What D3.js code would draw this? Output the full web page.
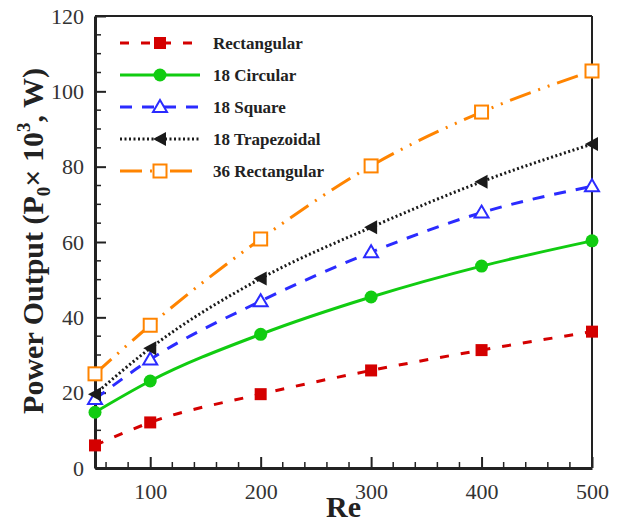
<!doctype html>
<html>
  <head>
    <meta charset="utf-8">
    <title>Power Output vs Re</title>
    <script src="https://cdn.jsdelivr.net/npm/d3@7"></script>
    <style>
      body { margin: 0; background: #fff; }
      svg { display: block; font-family: "Liberation Serif", "Times New Roman", serif; }
    </style>
  </head>
  <body>
    <svg id="chart" width="625" height="524"></svg>
    <script>
      // data
      var re = [50, 100, 200, 300, 400, 500];
      var rectangular = [6.0, 12.1, 19.6, 25.9, 31.3, 36.2];
      var circular18 = [14.8, 23.1, 35.5, 45.4, 53.6, 60.3];
      var square18 = [18.3, 28.8, 44.3, 57.3, 67.8, 74.8];
      var trapezoidal18 = [19.6, 31.8, 50.3, 63.9, 76.0, 86.0];
      var rect36 = [25.0, 37.9, 60.8, 80.2, 94.5, 105.4];

      var xTicks = [100, 200, 300, 400, 500];
      var yTicks = [0, 20, 40, 60, 80, 100, 120];

      var series = [
        { name: 'Rectangular', values: rectangular, color: '#d40000', dash: '9,12', marker: 'fsquare' },
        { name: '18 Circular', values: circular18, color: '#11cc11', dash: null, marker: 'circle' },
        { name: '18 Square', values: square18, color: '#2b2bff', dash: '12,10', marker: 'otri' },
        { name: '18 Trapezoidal', values: trapezoidal18, color: '#1a1a1a', dash: '2,2.5', marker: 'ltri' },
        { name: '36 Rectangular', values: rect36, color: '#ff8400', dash: '22,8,2,8,2,8', marker: 'osquare' }
      ];

      var svg = d3.select('#chart');
      var plotL = 95, plotR = 592, plotT = 16, plotB = 468;

      var x = d3.scaleLinear().domain([50, 500]).range([plotL, plotR]);
      var y = d3.scaleLinear().domain([0, 120]).range([plotB, plotT]);

      var axisColor = '#222';

      // frame
      svg.append('line').attr('x1', plotL).attr('x2', plotR).attr('y1', plotT).attr('y2', plotT)
        .attr('stroke', axisColor).attr('stroke-width', 2);
      svg.append('line').attr('x1', plotR).attr('x2', plotR).attr('y1', plotT).attr('y2', plotB)
        .attr('stroke', axisColor).attr('stroke-width', 2);

      // minor ticks
      var xMinor = d3.range(60, 500, 20).filter(function (d) { return d % 100 !== 0; });
      var yMinor = d3.range(5, 120, 5).filter(function (d) { return d % 20 !== 0; });

      var xAxis = svg.append('g').attr('transform', 'translate(0,' + plotB + ')')
        .call(d3.axisBottom(x).tickValues(xTicks).tickSize(-11).tickPadding(15).tickSizeOuter(0));
      xAxis.append('g').selectAll('line').data(xMinor).enter().append('line')
        .attr('x1', x).attr('x2', x).attr('y1', 0).attr('y2', -6)
        .attr('stroke', axisColor).attr('stroke-width', 1.5);

      var yAxis = svg.append('g').attr('transform', 'translate(' + plotL + ',0)')
        .call(d3.axisLeft(y).tickValues(yTicks).tickSize(-11).tickPadding(11).tickSizeOuter(0));
      yAxis.append('g').selectAll('line').data(yMinor).enter().append('line')
        .attr('y1', y).attr('y2', y).attr('x1', 0).attr('x2', 6)
        .attr('stroke', axisColor).attr('stroke-width', 1.5);

      [xAxis, yAxis].forEach(function (g) {
        g.select('.domain').attr('stroke', axisColor).attr('stroke-width', 3);
        g.selectAll('.tick line').attr('stroke', axisColor).attr('stroke-width', 2);
        g.selectAll('.tick text').attr('font-size', 22).attr('fill', '#333')
          .attr('font-family', '"Liberation Serif", serif');
      });
      xAxis.selectAll('.tick text').attr('dy', '0.71em');

      // axis titles
      svg.append('text').attr('x', (plotL + plotR) / 2).attr('y', 517)
        .attr('text-anchor', 'middle').attr('font-size', 30).attr('font-weight', 'bold')
        .attr('fill', '#222').text('Re');

      var yt = svg.append('text')
        .attr('transform', 'translate(42.5,241) rotate(-90)')
        .attr('text-anchor', 'middle').attr('font-size', 30).attr('font-weight', 'bold')
        .attr('fill', '#222');
      yt.append('tspan').text('Power Output (P');
      yt.append('tspan').attr('font-size', 19).attr('dy', 7).text('0');
      yt.append('tspan').attr('dy', -7).text('\u00d7 10');
      yt.append('tspan').attr('font-size', 19).attr('dy', -13).text('3');
      yt.append('tspan').attr('dy', 13).text(', W)');

      var line = d3.line()
        .x(function (d) { return x(d.re); })
        .y(function (d) { return y(d.v); })
        .curve(d3.curveMonotoneX);

      function drawMarker(g, type, color, cx, cy) {
        if (type === 'fsquare') {
          g.append('rect').attr('x', cx - 6).attr('y', cy - 6).attr('width', 12).attr('height', 12)
            .attr('fill', color);
        } else if (type === 'circle') {
          g.append('circle').attr('cx', cx).attr('cy', cy).attr('r', 6.5).attr('fill', color);
        } else if (type === 'otri') {
          g.append('path')
            .attr('d', 'M' + cx + ',' + (cy - 7) + 'L' + (cx + 7) + ',' + (cy + 5) + 'L' + (cx - 7) + ',' + (cy + 5) + 'Z')
            .attr('fill', '#fff').attr('stroke', color).attr('stroke-width', 2);
        } else if (type === 'ltri') {
          g.append('path')
            .attr('d', 'M' + (cx - 7) + ',' + cy + 'L' + (cx + 6) + ',' + (cy - 7) + 'L' + (cx + 6) + ',' + (cy + 7) + 'Z')
            .attr('fill', color);
        } else if (type === 'osquare') {
          g.append('rect').attr('x', cx - 6.5).attr('y', cy - 6.5).attr('width', 13).attr('height', 13)
            .attr('fill', '#fff').attr('stroke', color).attr('stroke-width', 2);
        }
      }

      var plot = svg.append('g');
      series.forEach(function (s) {
        var pts = re.map(function (r, i) { return { re: r, v: s.values[i] }; });
        plot.append('path').datum(pts)
          .attr('d', line)
          .attr('fill', 'none')
          .attr('stroke', s.color)
          .attr('stroke-width', 3)
          .attr('stroke-dasharray', s.dash);
      });
      series.forEach(function (s) {
        var g = plot.append('g');
        re.forEach(function (r, i) {
          drawMarker(g, s.marker, s.color, x(r), y(s.values[i]));
        });
      });

      // legend
      var legend = svg.append('g');
      var rowY = [43, 75, 107, 139, 171];
      series.forEach(function (s, i) {
        var ly = rowY[i];
        legend.append('line').attr('x1', 120).attr('x2', 200).attr('y1', ly).attr('y2', ly)
          .attr('stroke', s.color).attr('stroke-width', 3).attr('stroke-dasharray', s.dash);
        drawMarker(legend, s.marker, s.color, 160, ly);
        legend.append('text').attr('x', 213).attr('y', ly).attr('dy', '0.35em')
          .attr('font-size', 17).attr('font-weight', 'bold').attr('fill', '#222')
          .text(s.name);
      });
    </script>
  </body>
</html>
